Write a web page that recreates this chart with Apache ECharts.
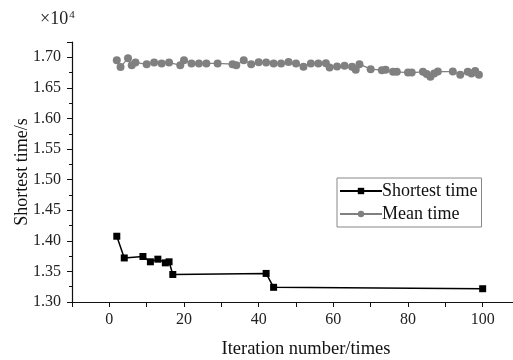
<!DOCTYPE html>
<html>
<head>
<meta charset="utf-8">
<style>html,body{margin:0;padding:0;background:#fff;}#c{width:513px;height:360px;}</style>
<script src="https://cdn.jsdelivr.net/npm/echarts@6/dist/echarts.min.js"></script>
</head>
<body>
<div id="c"></div>
<script>
// Shortest time (x10^4 s)
const shortestX = [2, 4, 9, 11, 13, 15, 16, 17, 42, 44, 100];
const shortestY = [1.4075, 1.372, 1.3744, 1.3657, 1.370, 1.364, 1.3657, 1.345, 1.3467, 1.324, 1.3217];
// Mean time (x10^4 s)
const meanX = [2, 3, 5, 6, 7, 10, 12, 14, 16, 19, 20, 22, 24, 26, 29, 33, 34, 36, 38, 40, 42, 44, 46, 48, 50, 52, 54, 56, 58, 59, 61, 63, 65, 66, 67, 70, 73, 74, 76, 77, 80, 81, 84, 85, 86, 87, 88, 92, 94, 96, 97, 98, 99];
const meanY = [1.695, 1.684, 1.6985, 1.6871, 1.6914, 1.6888, 1.6914, 1.6897, 1.6914, 1.6871, 1.6953, 1.6897, 1.690, 1.690, 1.690, 1.6888, 1.6871, 1.6953, 1.6888, 1.692, 1.6914, 1.690, 1.690, 1.6925, 1.690, 1.6844, 1.690, 1.690, 1.6904, 1.6832, 1.6849, 1.686, 1.6844, 1.6795, 1.6888, 1.6806, 1.679, 1.6795, 1.6762, 1.6762, 1.6751, 1.6751, 1.6762, 1.6725, 1.668, 1.6734, 1.6767, 1.6767, 1.6713, 1.6762, 1.6734, 1.6775, 1.6713];
const xTickLabels = [0, 20, 40, 60, 80, 100];
const seriesNames = ['Shortest time', 'Mean time'];

const font = 'Liberation Serif';
const chart = echarts.init(document.getElementById('c'), null, {renderer: 'canvas'});
chart.setOption({
  backgroundColor: '#fff',
  animation: false,
  textStyle: {fontFamily: font},
  graphic: [{
    type: 'text', left: 40, top: 10,
    style: {
      text: '×10{s|4}',
      rich: {s: {fontSize: 11, fontFamily: font, fill: '#222', verticalAlign: 'top', padding: [0, 0, 8, 1]}},
      fontSize: 18, fontFamily: font, fill: '#222'
    }
  }],
  legend: {
    orient: 'vertical', left: 337, top: 178,
    padding: [4, 4, 4, 2],
    itemGap: 5,
    itemWidth: 42, itemHeight: 8,
    borderColor: '#888', borderWidth: 1, borderRadius: 0,
    textStyle: {fontFamily: font, fontSize: 18, color: '#111', padding: [0, 0, 0, -5]},
    data: seriesNames
  },
  grid: {left: 72, top: 42, width: 448, height: 260, containLabel: false, outerBoundsMode: 'none'},
  xAxis: {
    type: 'value', min: -10, max: 110, interval: 10,
    name: 'Iteration number/times', nameLocation: 'middle', nameGap: 38, nameMoveOverlap: false,
    nameTextStyle: {fontFamily: font, fontSize: 18.5, color: '#111', padding: [0, 0, 0, 20]},
    axisLine: {onZero: false, lineStyle: {color: '#111', width: 1.2}},
    axisTick: {show: true, length: 5, lineStyle: {color: '#111'}},
    splitLine: {show: false},
    axisLabel: {
      fontFamily: font, fontSize: 16, color: '#222', margin: 10,
      formatter: v => (xTickLabels.indexOf(v) >= 0 ? String(v) : '')
    }
  },
  yAxis: {
    type: 'value', min: 1.30, max: 1.725, interval: 0.05,
    name: 'Shortest time/s', nameLocation: 'middle', nameGap: 41, nameMoveOverlap: false,
    nameTextStyle: {fontFamily: font, fontSize: 18, color: '#111'},
    axisLine: {show: true, onZero: false, lineStyle: {color: '#111', width: 1.2}},
    axisTick: {show: true, length: 5, lineStyle: {color: '#111'}},
    minorTick: {show: true, splitNumber: 2, length: 3, lineStyle: {color: '#111'}},
    splitLine: {show: false},
    axisLabel: {
      fontFamily: font, fontSize: 16, color: '#222', margin: 11, showMaxLabel: false,
      formatter: v => (v > 1.71 ? '' : v.toFixed(2))
    }
  },
  series: [
    {
      name: seriesNames[0], type: 'line',
      data: shortestX.map((x, i) => [x, shortestY[i]]),
      symbol: 'rect', symbolSize: 7,
      lineStyle: {color: '#000', width: 1.5},
      itemStyle: {color: '#000'},
      z: 3
    },
    {
      name: seriesNames[1], type: 'line',
      data: meanX.map((x, i) => [x, meanY[i]]),
      symbol: 'circle', symbolSize: 8,
      lineStyle: {color: '#808080', width: 1.2},
      itemStyle: {color: '#808080'},
      z: 2
    }
  ]
});
</script>
</body>
</html>
